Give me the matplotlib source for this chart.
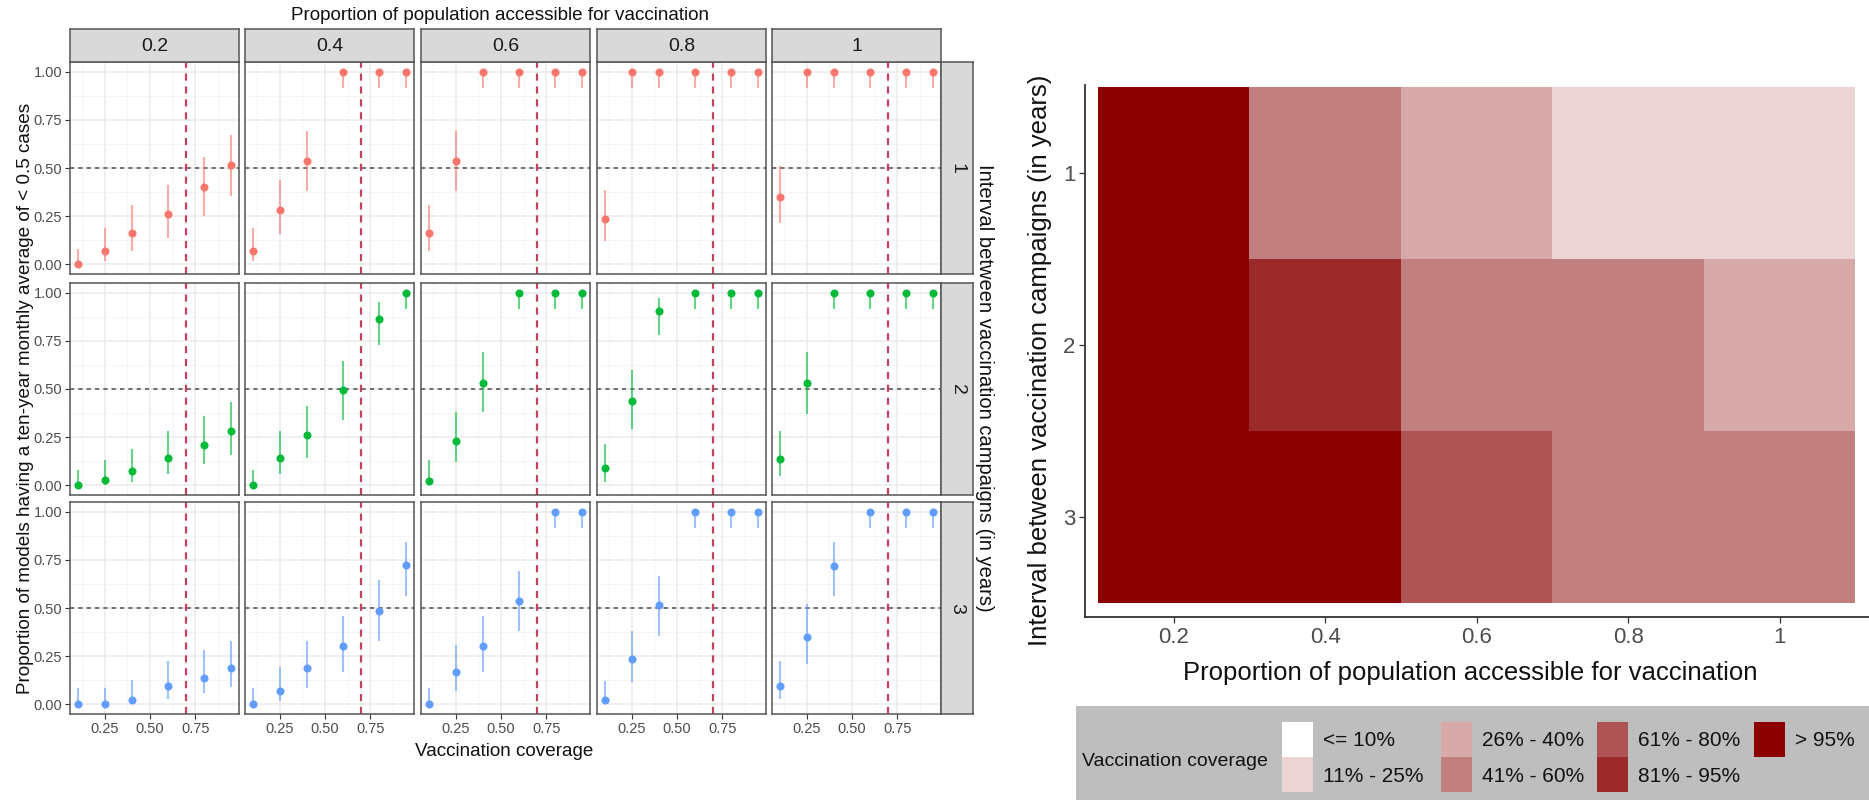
import matplotlib
matplotlib.use("Agg")
import matplotlib.pyplot as plt
from matplotlib.colors import ListedColormap, BoundaryNorm
from matplotlib.patches import Rectangle
import numpy as np

plt.rcParams['font.family'] = ['Liberation Sans', 'DejaVu Sans']

# ---- facet data: proportion of models under 0.5 cases, with 95% interval ----
coverage = [0.1, 0.25, 0.4, 0.6, 0.8, 0.95]
access_labels = ["0.2", "0.4", "0.6", "0.8", "1"]
interval_labels = ["1", "2", "3"]
series_colors = ["#F8766D", "#00BA38", "#619CFF"]

# interval 1 year
prop_1 = [[0.0, 0.07, 0.165, 0.26, 0.40, 0.515],
          [0.07, 0.28, 0.535, 1, 1, 1],
          [0.165, 0.535, 1, 1, 1, 1],
          [0.235, 1, 1, 1, 1, 1],
          [0.35, 1, 1, 1, 1, 1]]
low_1 = [[0.0, 0.015, 0.07, 0.135, 0.25, 0.355],
         [0.015, 0.155, 0.38, 0.915, 0.915, 0.915],
         [0.07, 0.38, 0.915, 0.915, 0.915, 0.915],
         [0.12, 0.915, 0.915, 0.915, 0.915, 0.915],
         [0.215, 0.915, 0.915, 0.915, 0.915, 0.915]]
high_1 = [[0.08, 0.19, 0.31, 0.41, 0.555, 0.67],
          [0.19, 0.44, 0.69, 1, 1, 1],
          [0.31, 0.69, 1, 1, 1, 1],
          [0.385, 1, 1, 1, 1, 1],
          [0.51, 1, 1, 1, 1, 1]]

# interval 2 years
prop_2 = [[0.0, 0.028, 0.072, 0.144, 0.21, 0.283],
          [0.0, 0.144, 0.26, 0.494, 0.865, 1],
          [0.023, 0.231, 0.533, 1, 1, 1],
          [0.089, 0.438, 0.905, 1, 1, 1],
          [0.139, 0.533, 1, 1, 1, 1]]
low_2 = [[0.0, 0.004, 0.017, 0.06, 0.11, 0.155],
         [0.0, 0.06, 0.14, 0.34, 0.73, 0.915],
         [0.0, 0.12, 0.38, 0.915, 0.915, 0.915],
         [0.02, 0.29, 0.78, 0.915, 0.915, 0.915],
         [0.05, 0.37, 0.915, 0.915, 0.915, 0.915]]
high_2 = [[0.08, 0.13, 0.19, 0.28, 0.36, 0.43],
          [0.08, 0.28, 0.41, 0.645, 0.95, 1],
          [0.13, 0.38, 0.69, 1, 1, 1],
          [0.215, 0.6, 0.97, 1, 1, 1],
          [0.28, 0.69, 1, 1, 1, 1]]

# interval 3 years
prop_3 = [[0.0, 0.0, 0.021, 0.094, 0.137, 0.19],
          [0.0, 0.071, 0.19, 0.304, 0.487, 0.722],
          [0.0, 0.167, 0.303, 0.536, 1, 1],
          [0.022, 0.233, 0.514, 1, 1, 1],
          [0.095, 0.35, 0.717, 1, 1, 1]]
low_3 = [[0.0, 0.0, 0.003, 0.03, 0.057, 0.09],
         [0.0, 0.017, 0.087, 0.17, 0.33, 0.56],
         [0.0, 0.07, 0.17, 0.38, 0.915, 0.915],
         [0.0, 0.117, 0.355, 0.915, 0.915, 0.915],
         [0.029, 0.21, 0.56, 0.915, 0.915, 0.915]]
high_3 = [[0.087, 0.087, 0.127, 0.224, 0.283, 0.33],
          [0.087, 0.195, 0.33, 0.46, 0.646, 0.84],
          [0.087, 0.31, 0.46, 0.69, 1, 1],
          [0.12, 0.38, 0.667, 1, 1, 1],
          [0.224, 0.52, 0.845, 1, 1, 1]]

props = [prop_1, prop_2, prop_3]
lows = [low_1, low_2, low_3]
highs = [high_1, high_2, high_3]

target_coverage = 0.7
threshold = 0.5

# ---- heatmap data: coverage class needed per access level / interval ----
access = [0.2, 0.4, 0.6, 0.8, 1.0]
intervals = [1, 2, 3]
level_labels = ["<= 10%", "11% - 25%", "26% - 40%", "41% - 60%",
                "61% - 80%", "81% - 95%", "> 95%"]
level_colors = ["#FFFFFF", "#EAD4D4", "#D7A9A9", "#C27F7F",
                "#AE5454", "#9C2A2A", "#8B0000"]
heat_cells = [[6, 3, 2, 1, 1],
              [6, 5, 3, 3, 2],
              [6, 6, 4, 3, 3]]

W, H = 1869, 800
fig = plt.figure(figsize=(W / 100, H / 100), dpi=100)


def px_box(left, top, width, height):
    return [left / W, 1 - (top + height) / H, width / W, height / H]


dark = "#333333"
tick_grey = "#4D4D4D"

col_left = [70, 245, 421, 597, 772]
row_top = [62, 283, 502]
pw, ph = 169, 212

for r in range(3):
    for c in range(5):
        ax = fig.add_axes(px_box(col_left[c], row_top[r], pw, ph))
        ax.set_xlim(0.0575, 0.9925)
        ax.set_ylim(-0.05, 1.05)
        ax.set_xticks([0.25, 0.5, 0.75])
        ax.set_xticks([0.125, 0.375, 0.625, 0.875], minor=True)
        ax.set_yticks([0, 0.25, 0.5, 0.75, 1.0])
        ax.set_yticks([0.125, 0.375, 0.625, 0.875], minor=True)
        ax.grid(which='major', color='#EBEBEB', lw=1.1)
        ax.grid(which='minor', color='#F4F4F4', lw=0.6)
        ax.set_axisbelow(True)
        ax.axhline(threshold, color='#5A5A5A', lw=1.2, dashes=(2.5, 2.5), zorder=2)
        ax.axvline(target_coverage, color='#C8405F', lw=1.6, dashes=(3.2, 2.6), zorder=2)
        colr = series_colors[r]
        ax.vlines(coverage, lows[r][c], highs[r][c], color=colr, alpha=0.6, lw=1.5, zorder=3)
        ax.plot(coverage, props[r][c], 'o', color=colr, ms=5.8, mec='none', zorder=4)
        for s in ax.spines.values():
            s.set_color('#555555')
            s.set_linewidth(1.1)
        ax.tick_params(which='minor', length=0)
        ax.tick_params(which='major', length=3.5, width=0.8, color=dark,
                       labelsize=10.5, labelcolor=tick_grey, pad=2)
        if c == 0:
            ax.set_yticklabels(["0.00", "0.25", "0.50", "0.75", "1.00"])
        else:
            ax.tick_params(axis='y', length=0, labelleft=False)
        if r == 2:
            ax.set_xticklabels(["0.25", "0.50", "0.75"])
        else:
            ax.tick_params(axis='x', length=0, labelbottom=False)

# facet strips
for c in range(5):
    sx = fig.add_axes(px_box(col_left[c], 29, pw, 33))
    sx.set_facecolor('#D9D9D9')
    sx.set_xticks([])
    sx.set_yticks([])
    for s in sx.spines.values():
        s.set_color('#555555')
        s.set_linewidth(1.1)
    sx.text(0.5, 0.48, access_labels[c], ha='center', va='center',
            fontsize=14, color='#1A1A1A', transform=sx.transAxes)

for r in range(3):
    sx = fig.add_axes(px_box(941, row_top[r], 32, ph))
    sx.set_facecolor('#D9D9D9')
    sx.set_xticks([])
    sx.set_yticks([])
    for s in sx.spines.values():
        s.set_color('#555555')
        s.set_linewidth(1.1)
    sx.text(0.5, 0.5, interval_labels[r], ha='center', va='center', rotation=-90,
            fontsize=14, color='#1A1A1A', transform=sx.transAxes)

fig.text(500 / W, 1 - 16 / H, "Proportion of population accessible for vaccination",
         ha='center', va='center', fontsize=13.6, color='#111111')
fig.text(984 / W, 1 - 388 / H, "Interval between vaccination campaigns (in years)",
         ha='center', va='center', rotation=-90, fontsize=14.5, color='#111111')
fig.text(504 / W, 1 - 752 / H, "Vaccination coverage",
         ha='center', va='center', fontsize=13.6, color='#111111')
fig.text(26 / W, 1 - 398 / H,
         "Proportion of models having a ten-year monthly average of < 0.5 cases",
         ha='center', va='center', rotation=90, fontsize=13.6, color='#111111')

# ---- heatmap ----
hx = fig.add_axes(px_box(1085, 85, W - 1085, 617 - 85))
acc = np.array(access)
x_edges = np.append(acc - 0.1, acc[-1] + 0.1)
y_edges = np.append(np.array(intervals) - 0.5, intervals[-1] + 0.5)
cmap = ListedColormap(level_colors)
norm = BoundaryNorm(np.arange(-0.5, len(level_colors) + 0.5), len(level_colors))
hx.pcolormesh(x_edges, y_edges, np.array(heat_cells), cmap=cmap, norm=norm)
hx.set_xlim(0.0828, 1.118)
hx.set_ylim(3.58, 0.488)
hx.set_xticks(access)
hx.set_xticklabels(access_labels)
hx.set_yticks(intervals)
hx.set_yticklabels(interval_labels)
for side in ['top', 'right']:
    hx.spines[side].set_visible(False)
for side in ['left', 'bottom']:
    hx.spines[side].set_color(dark)
    hx.spines[side].set_linewidth(1.3)
hx.tick_params(length=4, width=0.9, color=dark, labelsize=16,
               labelcolor=tick_grey, pad=3)

fig.text(1470 / W, 1 - 673 / H, "Proportion of population accessible for vaccination",
         ha='center', va='center', fontsize=18.5, color='#111111')
fig.text(1040 / W, 1 - 360 / H, "Interval between vaccination campaigns (in years)",
         ha='center', va='center', rotation=90, fontsize=18.5, color='#111111')

# ---- legend ----
lx = fig.add_axes(px_box(1076, 706, W - 1076, H - 706))
lx.set_xlim(1076, W)
lx.set_ylim(H, 706)
lx.axis('off')
lx.add_patch(Rectangle((1076, 706), W - 1076, H - 706, facecolor='#BEBEBE', edgecolor='none'))
lx.text(1082, 761, "Vaccination coverage", ha='left', va='center', fontsize=14, color='#111111')
key_x = [1282, 1441, 1597, 1754]
key_y = [722, 757]
for i, (lab, colr) in enumerate(zip(level_labels, level_colors)):
    kx = key_x[i // 2]
    ky = key_y[i % 2]
    lx.add_patch(Rectangle((kx, ky), 31, 35, facecolor=colr, edgecolor='none'))
    lx.text(kx + 41, ky + 19, lab, ha='left', va='center', fontsize=15, color='#111111')

fig.savefig("out.png", dpi=100)
